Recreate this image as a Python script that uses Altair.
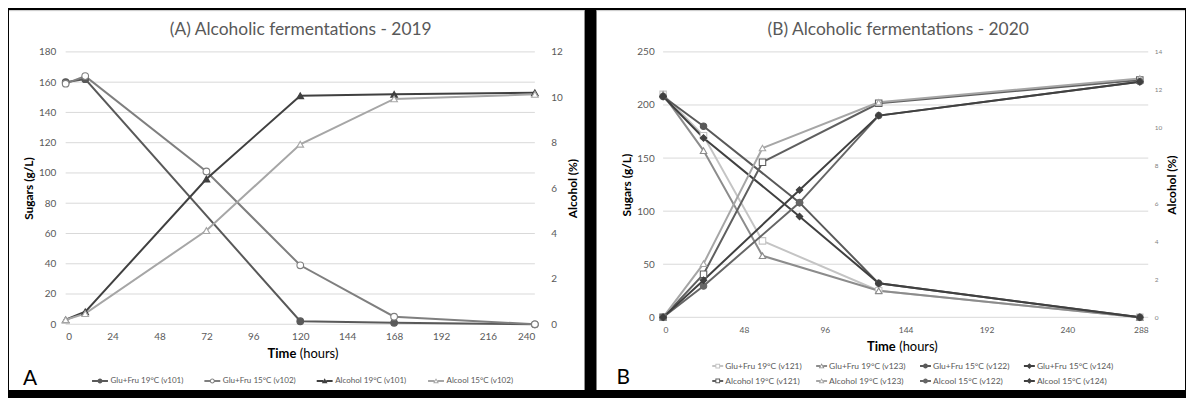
import altair as alt
import pandas as pd

FONT = "Lato"
GRID = "#d9d9d9"
TXT = "#595959"

# ---------------- Panel A data (2019) ----------------
a_title = "(A) Alcoholic fermentations - 2019"
a_sugar_names = ["Glu+Fru 19°C (v101)", "Glu+Fru 15°C (v102)"]
a_alc_names = ["Alcohol 19°C (v101)", "Alcool 15°C (v102)"]
a_glu19_t = [0, 10, 120, 168, 240]
a_glu19_v = [160, 162, 2, 1, 0]
a_glu15_t = [0, 10, 72, 120, 168, 240]
a_glu15_v = [159, 164, 101, 39, 5, 0]
a_alc19_t = [0, 10, 72, 120, 168, 240]
a_alc19_v = [0.2, 0.55, 6.4, 10.07, 10.13, 10.2]
a_alc15_t = [0, 10, 72, 120, 168, 240]
a_alc15_v = [0.2, 0.47, 4.13, 7.93, 9.93, 10.13]
a_time_ticks = [0, 24, 48, 72, 96, 120, 144, 168, 192, 216, 240]
a_sugar_ticks = [0, 20, 40, 60, 80, 100, 120, 140, 160, 180]
a_alc_ticks = [0, 2, 4, 6, 8, 10, 12]

# ---------------- Panel B data (2020) ----------------
b_title = "(B) Alcoholic fermentations - 2020"
b_sugar_names = ["Glu+Fru 19°C (v121)", "Glu+Fru 19°C (v123)", "Glu+Fru 15°C (v122)", "Glu+Fru 15°C (v124)"]
b_alc_names = ["Alcohol 19°C (v121)", "Alcohol 19°C (v123)", "Alcool 15°C (v122)", "Alcool 15°C (v124)"]
b_t19 = [0, 24, 59, 128, 283]
b_t15 = [0, 24, 81, 128, 283]
b_glu19_v121 = [210, 171, 72, 25, 0]
b_glu19_v123 = [210, 157, 58, 25, 0]
b_glu15_v122 = [208, 180, 108, 32, 0]
b_glu15_v124 = [208, 169, 95, 32, 0]
b_alc19_v121 = [0, 2.27, 8.18, 11.29, 12.52]
b_alc19_v123 = [0, 2.83, 8.93, 11.34, 12.6]
b_alc15_v122 = [0, 1.65, 6.05, 10.64, 12.43]
b_alc15_v124 = [0, 1.96, 6.72, 10.64, 12.43]
b_time_ticks = [0, 48, 96, 144, 192, 240, 288]
b_sugar_ticks = [0, 50, 100, 150, 200, 250]
b_alc_ticks = [0, 2, 4, 6, 8, 10, 12, 14]


def rows(name, t, v):
    return [{"series": name, "t": a, "v": b} for a, b in zip(t, v)]


a_sugar_df = pd.DataFrame(rows(a_sugar_names[0], a_glu19_t, a_glu19_v) + rows(a_sugar_names[1], a_glu15_t, a_glu15_v))
a_alc_df = pd.DataFrame(rows(a_alc_names[0], a_alc19_t, a_alc19_v) + rows(a_alc_names[1], a_alc15_t, a_alc15_v))
b_sugar_df = pd.DataFrame(rows(b_sugar_names[0], b_t19, b_glu19_v121) + rows(b_sugar_names[1], b_t19, b_glu19_v123)
                          + rows(b_sugar_names[2], b_t15, b_glu15_v122) + rows(b_sugar_names[3], b_t15, b_glu15_v124))
b_alc_df = pd.DataFrame(rows(b_alc_names[0], b_t19, b_alc19_v121) + rows(b_alc_names[1], b_t19, b_alc19_v123)
                        + rows(b_alc_names[2], b_t15, b_alc15_v122) + rows(b_alc_names[3], b_t15, b_alc15_v124))


# ---------------- styles ----------------
def legend_paths(L):
    def seg(g):
        return f"M{-L},-0.4H{-g}V0.4H{-L}ZM{g},-0.4H{L}V0.4H{g}Z"
    circ_o = "M-1,0A1,1,0,1,1,1,0A1,1,0,1,1,-1,0Z"
    circ_i = "M-0.6,0A0.6,0.6,0,1,0,0.6,0A0.6,0.6,0,1,0,-0.6,0Z"
    tri_o = "M0,-1.1L1.15,0.9L-1.15,0.9Z"
    tri_i = "M0,-0.4L-0.545,0.55L0.545,0.55Z"
    sq_o = "M-0.95,-0.95H0.95V0.95H-0.95Z"
    sq_i = "M-0.55,-0.55V0.55H0.55V-0.55Z"
    dia = "M0,-1.15L1.15,0L0,1.15L-1.15,0Z"
    return {
        ("circle", True): seg(0.95) + circ_o,
        ("circle", False): seg(0.95) + circ_o + circ_i,
        ("triangle-up", True): seg(0.63) + tri_o,
        ("triangle-up", False): seg(0.63) + tri_o + tri_i,
        ("square", True): seg(0.95) + sq_o,
        ("square", False): seg(0.95) + sq_o + sq_i,
        ("diamond", True): seg(0.8) + dia,
    }


a_style = {
    "Glu+Fru 19°C (v101)": ("#595959", "circle", True),
    "Glu+Fru 15°C (v102)": ("#7f7f7f", "circle", False),
    "Alcohol 19°C (v101)": ("#404040", "triangle-up", True),
    "Alcool 15°C (v102)": ("#a6a6a6", "triangle-up", False),
}
b_style = {
    "Glu+Fru 19°C (v121)": ("#c4c4c4", "square", False),
    "Glu+Fru 19°C (v123)": ("#8c8c8c", "triangle-up", False),
    "Glu+Fru 15°C (v122)": ("#595959", "circle", True),
    "Glu+Fru 15°C (v124)": ("#404040", "diamond", True),
    "Alcohol 19°C (v121)": ("#5f5f5f", "square", False),
    "Alcohol 19°C (v123)": ("#a6a6a6", "triangle-up", False),
    "Alcool 15°C (v122)": ("#666666", "circle", True),
    "Alcool 15°C (v124)": ("#404040", "diamond", True),
}


def text_layer(s, x, y, size, color, weight="normal", align="center", baseline="middle"):
    return alt.Chart(pd.DataFrame({"s": [s]})).mark_text(
        font=FONT, fontSize=size, color=color, fontWeight=weight, align=align, baseline=baseline
    ).encode(text="s:N", x=alt.value(x), y=alt.value(y))


def make_panel(p):
    W, H = p["W"], p["H"]
    st = p["style"]
    names = p["sugar_names"] + p["alc_names"]

    x_enc = alt.X("t:Q", scale=alt.Scale(domain=[0, p["tmax"]], nice=False, zero=False),
                  axis=alt.Axis(values=p["tticks"], grid=False, domain=False, ticks=False,
                                labelPadding=p["xlabpad"], labelFontSize=p["xlabsize"], labelColor=TXT,
                                labelFont=FONT, title=None, zindex=1))

    ys = alt.Y("v:Q", scale=alt.Scale(domain=[0, p["smax"]], nice=False),
               axis=alt.Axis(orient="left", values=p["sticks"], grid=False, domain=False, ticks=False,
                             labelPadding=p["slabpad"], labelFontSize=10, labelColor=TXT, labelFont=FONT,
                             title="Sugars (g/L)", titleFont=FONT, titleFontSize=12, titleFontWeight="bold",
                             titleColor="black", titlePadding=p["stitlepad"], zindex=1))
    ya = alt.Y("v:Q", scale=alt.Scale(domain=[0, p["amax"]], nice=False),
               axis=alt.Axis(orient="right", values=p["aticks"], grid=False, domain=False, ticks=False,
                             labelPadding=p["alabpad"], labelFontSize=p["alabsize"], labelColor=p["alabcolor"],
                             labelFont=FONT, title="Alcohol (%)", titleFont=FONT, titleFontSize=12,
                             titleFontWeight="bold", titleColor="black", titleAngle=270, titleBaseline="top",
                             titlePadding=p["atitlepad"], zindex=1))

    def series_layer(df, sel, y_enc, extra=None):
        stroke = alt.Stroke("series:N", scale=alt.Scale(domain=sel, range=[st[n][0] for n in sel]), legend=None)
        fill = alt.Fill("series:N", scale=alt.Scale(domain=sel, range=[st[n][0] if st[n][2] else "#ffffff" for n in sel]), legend=None)
        shape = alt.Shape("series:N", scale=alt.Scale(domain=sel, range=[st[n][1] for n in sel]), legend=None)
        line = alt.Chart(df).mark_line(strokeWidth=2).encode(x=x_enc, y=y_enc, stroke=stroke)
        pts = alt.Chart(df).mark_point(size=p["msize"], opacity=1, strokeWidth=1.1).encode(
            x=x_enc, y=y_enc, stroke=stroke, fill=fill, shape=shape)
        layers = ([extra] if extra is not None else []) + [line, pts]
        return alt.layer(*layers)

    grid = alt.Chart(pd.DataFrame({"v": p["sticks"]})).mark_rule(color=GRID, strokeWidth=1).encode(y=ys)
    sugar = series_layer(p["sugar_df"], p["sugar_names"], ys, grid)
    alc = series_layer(p["alc_df"], p["alc_names"], ya)

    paths = legend_paths(p["legL"])
    leg = alt.Legend(title=None, orient="none", legendX=p["legX"], legendY=p["legY"], columns=4,
                     direction="horizontal",
                     columnPadding=p["colpad"], rowPadding=p["rowpad"], labelFont=FONT,
                     labelFontSize=p["legfs"], labelColor=TXT, symbolSize=25, symbolStrokeWidth=0,
                     labelOffset=p["laboff"], padding=0, gridAlign="each")
    dummy = alt.Chart(pd.DataFrame({"series": names})).transform_filter("false").mark_point(
        filled=True, opacity=1, size=25, strokeWidth=0).encode(
        color=alt.Color("series:N", scale=alt.Scale(domain=names, range=[st[n][0] for n in names]), legend=leg),
        shape=alt.Shape("series:N", scale=alt.Scale(domain=names, range=[paths[(st[n][1], st[n][2])] for n in names]), legend=leg),
    )

    one = pd.DataFrame({"k": [0]})
    black = alt.Chart(one).mark_rect(color="black").encode(
        x=alt.value(p["rx1"]), x2=alt.value(p["rx2"]), y=alt.value(-42), y2=alt.value(346))
    white = alt.Chart(one).mark_rect(color="white").encode(
        x=alt.value(p["rx1"]), x2=alt.value(p["rx2"]), y=alt.value(-42), y2=alt.value(340))
    topline = alt.Chart(one).mark_rule(color="#d0d0d0", strokeWidth=1).encode(
        x=alt.value(p["rx1"]), x2=alt.value(p["rx2"]), y=alt.value(-41.5))

    texts = [
        text_layer(p["title"], p["titleX"], -22, 17.5, TXT),
        text_layer(p["letter"], p["letterX"], p["letterY"], 21, "black", align="left", baseline="alphabetic"),
        text_layer("Time", p["timeX"], p["timeY"], 13, "black", weight="bold", align="right"),
        text_layer("(hours)", p["timeX"] + 3.5, p["timeY"], 13, "black", align="left"),
    ]

    return alt.layer(black, white, topline, sugar, alc, dummy, *texts).resolve_scale(
        y="independent", color="independent", shape="independent", stroke="independent", fill="independent"
    ).properties(width=W, height=H)


panel_a = make_panel(dict(
    W=472, H=274, style=a_style, sugar_names=a_sugar_names, alc_names=a_alc_names,
    sugar_df=a_sugar_df, alc_df=a_alc_df, tmax=240, tticks=a_time_ticks, xlabpad=7, xlabsize=10,
    smax=180, sticks=a_sugar_ticks, slabpad=10, stitlepad=3,
    amax=12, aticks=a_alc_ticks, alabpad=16, alabsize=10, alabcolor=TXT, atitlepad=5,
    msize=45, legL=3.2, legX=30.5, legY=326.5, colpad=21, rowpad=6, legfs=8.1, laboff=6.5,
    rx1=-57, rx2=522, title=a_title, titleX=236.5, letter="A", letterX=-43, letterY=335,
    timeX=232, timeY=304,
))

panel_b = make_panel(dict(
    W=488, H=267, style=b_style, sugar_names=b_sugar_names, alc_names=b_alc_names,
    sugar_df=b_sugar_df, alc_df=b_alc_df, tmax=288, tticks=b_time_ticks, xlabpad=8, xlabsize=8.5,
    smax=250, sticks=b_sugar_ticks, slabpad=9, stitlepad=3,
    amax=14, aticks=b_alc_ticks, alabpad=6, alabsize=6.5, alabcolor="#7f7f7f", atitlepad=5,
    msize=42, legL=2.2, legX=50.7, legY=311.7, colpad=13.5, rowpad=6, legfs=8.5, laboff=3.3,
    rx1=-67, rx2=525, title=b_title, titleX=236.5, letter="B", letterX=-47, letterY=334,
    timeX=234, timeY=297,
))

chart = alt.hconcat(panel_a, panel_b, spacing=10).resolve_scale(
    color="independent", shape="independent", stroke="independent", fill="independent"
).properties(background="black", padding=0).configure_view(stroke="transparent")

chart.save("out.html", embed_options={"renderer": "svg", "actions": False})
